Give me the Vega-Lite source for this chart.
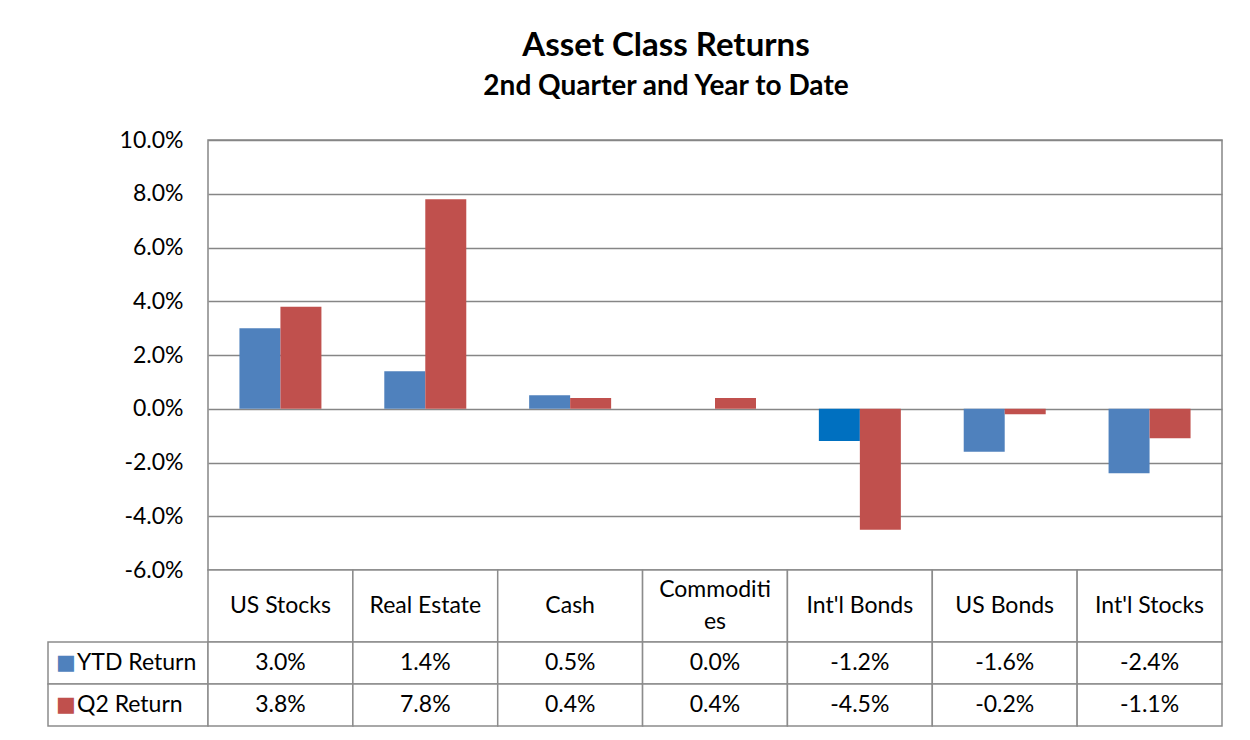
{
  "$schema": "https://vega.github.io/schema/vega-lite/v6.json",
  "background": "white",
  "padding": {"left": 47, "top": 30, "right": 0, "bottom": 0},
  "title": {
    "text": "Asset Class Returns",
    "subtitle": "2nd Quarter and Year to Date",
    "font": "Lato", "fontSize": 33, "fontWeight": "bold", "color": "black",
    "subtitleFont": "Lato", "subtitleFontSize": 28, "subtitleFontWeight": "bold", "subtitleColor": "black",
    "subtitlePadding": 10,
    "anchor": "middle", "dx": 31, "offset": 27
  },
  "config": {
    "view": {"stroke": null},
    "locale": {"number": {"decimal": ".", "thousands": ",", "grouping": [3], "currency": ["$", ""], "minus": "-"}}
  },
  "datasets": {
    "returns": [
      {"asset": "US Stocks", "series": "YTD Return", "value": 0.030},
      {"asset": "US Stocks", "series": "Q2 Return", "value": 0.038},
      {"asset": "Real Estate", "series": "YTD Return", "value": 0.014},
      {"asset": "Real Estate", "series": "Q2 Return", "value": 0.078},
      {"asset": "Cash", "series": "YTD Return", "value": 0.005},
      {"asset": "Cash", "series": "Q2 Return", "value": 0.004},
      {"asset": "Commodities", "series": "YTD Return", "value": 0.000},
      {"asset": "Commodities", "series": "Q2 Return", "value": 0.004},
      {"asset": "Int'l Bonds", "series": "YTD Return", "value": -0.012},
      {"asset": "Int'l Bonds", "series": "Q2 Return", "value": -0.045},
      {"asset": "US Bonds", "series": "YTD Return", "value": -0.016},
      {"asset": "US Bonds", "series": "Q2 Return", "value": -0.002},
      {"asset": "Int'l Stocks", "series": "YTD Return", "value": -0.024},
      {"asset": "Int'l Stocks", "series": "Q2 Return", "value": -0.011}
    ],
    "headers": [
      {"asset": "US Stocks", "label": "US Stocks", "lines": 1},
      {"asset": "Real Estate", "label": "Real Estate", "lines": 1},
      {"asset": "Cash", "label": "Cash", "lines": 1},
      {"asset": "Commodities", "label": "Commoditi\nes", "lines": 2},
      {"asset": "Int'l Bonds", "label": "Int'l Bonds", "lines": 1},
      {"asset": "US Bonds", "label": "US Bonds", "lines": 1},
      {"asset": "Int'l Stocks", "label": "Int'l Stocks", "lines": 1}
    ],
    "series": [
      {"series": "YTD Return"},
      {"series": "Q2 Return"}
    ]
  },
  "columns": 2,
  "spacing": 0,
  "bounds": "flush",
  "concat": [
    {
      "width": 160, "height": 430,
      "data": {"values": []},
      "mark": {"type": "text"},
      "encoding": {}
    },
    {
      "width": 1014, "height": 430,
      "view": {"stroke": "#868686", "strokeWidth": 1.5},
      "data": {"name": "returns"},
      "mark": {"type": "bar"},
      "encoding": {
        "x": {
          "field": "asset", "type": "nominal",
          "sort": ["US Stocks", "Real Estate", "Cash", "Commodities", "Int'l Bonds", "US Bonds", "Int'l Stocks"],
          "scale": {"paddingInner": 0.434, "paddingOuter": 0.217},
          "axis": null
        },
        "xOffset": {
          "field": "series", "type": "nominal",
          "sort": ["YTD Return", "Q2 Return"],
          "scale": {"paddingInner": 0, "paddingOuter": 0}
        },
        "y": {
          "field": "value", "type": "quantitative",
          "scale": {"domain": [-0.06, 0.10], "nice": false, "zero": false},
          "axis": {
            "title": null, "format": ".1%",
            "values": [-0.06, -0.04, -0.02, 0, 0.02, 0.04, 0.06, 0.08, 0.10],
            "labelFont": "Lato", "labelFontSize": 23, "labelColor": "black",
            "labelPadding": 25, "ticks": false, "domain": false,
            "grid": true, "gridColor": "#868686", "gridWidth": 1.5
          }
        },
        "color": {
          "condition": {"test": "datum.asset === \"Int'l Bonds\" && datum.series === 'YTD Return'", "value": "#0070C0"},
          "field": "series", "type": "nominal",
          "scale": {"domain": ["YTD Return", "Q2 Return"], "range": ["#4F81BD", "#C0504D"]},
          "legend": null
        }
      }
    },
    {
      "width": 160, "height": 72,
      "data": {"values": []},
      "mark": {"type": "text"},
      "encoding": {}
    },
    {
      "width": 1014, "height": 72,
      "data": {"name": "headers"},
      "encoding": {
        "x": {
          "field": "asset", "type": "nominal",
          "sort": ["US Stocks", "Real Estate", "Cash", "Commodities", "Int'l Bonds", "US Bonds", "Int'l Stocks"],
          "scale": {"padding": 0},
          "axis": null
        }
      },
      "layer": [
        {"mark": {"type": "rect", "fill": "white", "stroke": "#8c8c8c", "strokeWidth": 1.5}},
        {
          "transform": [{"filter": "datum.lines === 1"}],
          "mark": {"type": "text", "font": "Lato", "fontSize": 23, "color": "black"},
          "encoding": {"text": {"field": "label"}}
        },
        {
          "transform": [{"filter": "datum.lines === 2"}],
          "mark": {"type": "text", "font": "Lato", "fontSize": 23, "color": "black", "lineBreak": "\n", "lineHeight": 32, "dy": -16},
          "encoding": {"text": {"field": "label"}}
        }
      ]
    },
    {
      "width": 160, "height": 84,
      "data": {"name": "series"},
      "encoding": {
        "y": {
          "field": "series", "type": "nominal",
          "sort": ["YTD Return", "Q2 Return"],
          "scale": {"padding": 0},
          "axis": null
        }
      },
      "layer": [
        {"mark": {"type": "rect", "fill": "white", "stroke": "#8c8c8c", "strokeWidth": 1.5}},
        {
          "mark": {"type": "text", "font": "DejaVu Sans", "fontSize": 21, "align": "left", "dx": -72, "text": "■"},
          "encoding": {
            "color": {
              "field": "series", "type": "nominal",
              "scale": {"domain": ["YTD Return", "Q2 Return"], "range": ["#4F81BD", "#C0504D"]},
              "legend": null
            }
          }
        },
        {
          "mark": {"type": "text", "font": "Lato", "fontSize": 23, "color": "black", "align": "left", "dx": -51},
          "encoding": {"text": {"field": "series"}}
        }
      ]
    },
    {
      "width": 1014, "height": 84,
      "data": {"name": "returns"},
      "encoding": {
        "x": {
          "field": "asset", "type": "nominal",
          "sort": ["US Stocks", "Real Estate", "Cash", "Commodities", "Int'l Bonds", "US Bonds", "Int'l Stocks"],
          "scale": {"padding": 0},
          "axis": null
        },
        "y": {
          "field": "series", "type": "nominal",
          "sort": ["YTD Return", "Q2 Return"],
          "scale": {"padding": 0},
          "axis": null
        }
      },
      "layer": [
        {"mark": {"type": "rect", "fill": "white", "stroke": "#8c8c8c", "strokeWidth": 1.5}},
        {
          "mark": {"type": "text", "font": "Lato", "fontSize": 23, "color": "black"},
          "encoding": {"text": {"field": "value", "type": "quantitative", "format": ".1%"}}
        }
      ]
    }
  ]
}
